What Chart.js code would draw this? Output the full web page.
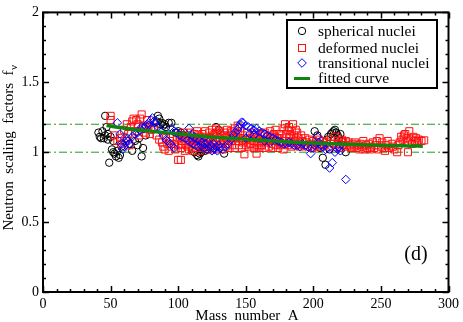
<!DOCTYPE html>
<html><head><meta charset="utf-8">
<script src="https://cdn.jsdelivr.net/npm/chart.js@4"></script>
<style>html,body{margin:0;padding:0;background:#fff}canvas{display:block}</style>
</head><body>
<canvas id="c" width="463" height="322"></canvas>
<script>
const spherical = [[41,1.14],[42,1.11],[43,1.10],[44,1.15],[45,1.10],[46,1.26],[46,1.12],[47,1.18],[48,1.13],[48,1.09],[49,0.925],[50,1.11],[51,1.02],[52,1.08],[52,1.00],[53,0.99],[54,0.97],[55,1.01],[56,0.96],[57,0.98],[58,1.04],
[62,1.10],[64,1.06],[66,1.01],[68,1.08],[70,1.05],[71,1.10],[73,0.97],[74,1.03],[76,1.12],
[82,1.17],[84,1.22],[85,1.26],[86,1.24],[87,1.20],[88,1.21],[89,1.19],[90,1.20],[91,1.18],[93,1.21],[95,1.21],
[98,1.14],[100,1.15],[102,1.14],[104,1.12],
[112,1.00],[114,0.98],[115,0.97],[116,0.99],[117,1.00],[118,1.02],[119,1.03],[120,1.01],[122,1.02],[124,1.04],[126,1.03],
[128,1.18],[130,1.16],[134,0.99],
[201,1.15],[203,1.12],[205,1.03],[207,0.96],[209,0.91],[210,1.09],[211,1.11],[212,1.02],[213,1.13],[214,1.14],[215,1.15],[216,1.16],[217,1.14],[218,1.12],[219,1.10],[220,1.13],[221,1.08],[222,1.05],[224,1.00]];

const deformed = [[50,1.26],[50,1.23],[53,1.12],[55,1.08],[57,1.10],[58,1.06],[60,1.16],[61,1.08],[62,1.20],[63,1.13],[64,1.05],[65,1.18],[66,1.22],[67,1.24],[68,1.15],[69,1.23],[70,1.20],[71,1.12],[72,1.24],[73,1.27],[74,1.19],[75,1.14],[76,1.17],[77,1.23],[78,1.19],[79,1.13],[80,1.16],[82,1.18],[84,1.12],[86,1.09],[88,1.07],[89,1.04],[90,1.02],[91,1.10],[92,1.06],[93,1.01],[94,1.08],[95,1.04],[96,1.11],[97,1.06],[98,1.02],[99,1.09],
[100,0.945],[102,0.945],[100,1.05],[101,1.12],[102,1.03],[103,1.08],[104,1.14],[105,1.01],[105,1.10],[106,1.05],[107,1.12],[108,1.02],[108,1.08],[109,1.14],[110,1.04],[110,1.10],[111,1.01],[112,1.07],[112,1.13],[113,1.03],[114,1.09],[114,1.15],[115,1.05],[116,1.11],[116,1.01],[117,1.07],[118,1.13],[118,1.03],[119,1.09],[120,1.15],[120,1.05],[121,1.11],[122,1.02],[122,1.08],[123,1.14],[124,1.04],[124,1.10],[125,1.16],[126,1.06],[126,1.12],[127,1.02],[128,1.08],[128,1.17],[129,1.14],[130,1.04],[130,1.10],[131,1.15],[132,1.06],[132,1.12],[133,1.02],[134,1.08],[134,1.14],[135,1.04],[136,1.10],[136,1.16],[137,1.06],[138,1.12],[138,1.03],[139,1.08],[140,1.14],[140,1.05],[141,1.10],[142,1.17],[142,1.03],[143,1.08],[144,1.13],[144,1.19],[145,1.05],[146,1.10],[146,1.15],[147,1.03],[148,1.07],[148,1.12],[149,0.985],[150,1.05],[150,1.09],
[103,1.06],[107,1.04],[111,1.09],[115,1.12],[119,1.06],[123,1.10],[127,1.13],[131,1.08],[135,1.12],[139,1.15],[143,1.11],[147,1.09],
[151,1.14],[152,1.04],[153,1.10],[154,1.06],[155,1.12],[156,1.03],[156,1.08],[157,1.14],[158,0.99],[158,1.05],[159,1.10],[160,1.03],[160,1.07],[161,1.12],[162,1.05],[163,1.09],[164,1.03],[164,1.14],[165,1.07],[166,1.11],[167,1.04],[168,1.09],[168,1.15],[169,1.06],[170,1.03],[170,1.12],[171,1.08],[172,1.05],[172,1.16],[173,1.10],[174,1.03],[175,1.07],[175,1.13],[176,1.05],[177,1.10],[178,1.02],[178,1.17],[179,1.20],[180,1.08],[180,1.13],[181,1.05],[182,1.18],[182,1.10],[183,1.07],[184,1.15],[184,1.04],[185,1.20],[186,1.12],[186,1.08],[187,1.05],[188,1.14],[189,1.10],[190,1.07],[190,1.04],[191,1.12],[192,1.08],[193,1.05],[194,1.10],[195,1.07],
[153,1.06],[157,1.11],[161,1.05],[163,1.13],[167,1.08],[171,1.13],[174,1.10],[177,1.06],[181,1.16],[183,1.12],[187,1.16],[189,1.06],
[196,1.04],[197,1.09],[198,1.06],[199,1.03],[200,1.08],[201,1.05],[202,1.07],[203,1.04],[204,1.09],[205,1.06],[206,1.04],[207,1.08],[208,1.05],[210,1.07],[212,1.04],[213,1.09],[215,1.06],[216,1.11],[217,1.04],[218,1.08],[219,1.06],[220,1.03],[221,1.09],[222,1.07],[223,1.05],[224,1.08],[225,1.04],[226,1.07],[227,1.05],[228,1.03],[229,1.06],[230,1.04],[231,1.07],[232,1.03],[233,1.05],[234,1.02],[235,1.06],[236,1.04],[237,1.08],[238,1.02],[239,1.05],[240,1.03],
[241,1.06],[242,1.02],[243,1.04],[244,1.07],[245,1.03],[246,1.05],[247,1.08],[248,1.02],[249,1.10],[250,1.04],[251,1.07],[252,1.03],[253,1.01],[254,1.05],[255,1.08],[256,1.03],[258,1.06],[259,1.04],[260,1.02],[262,1.00],[263,1.05],[264,1.07],[265,1.11],[266,1.09],[267,1.12],[268,1.13],[269,1.10],[270,1.00],[270,1.07],[271,1.15],[272,1.09],[273,1.06],[274,1.11],[275,1.08],[276,1.10],[277,1.07],[278,1.09],[280,1.08],[282,1.085]];

const transitional = [[55,1.21],[57,1.13],[58,1.06],[59,1.02],[60,1.04],[61,1.07],[62,1.09],[63,1.08],[64,1.06],[66,1.11],[68,1.13],[70,1.14],[72,1.16],[73,1.18],[75,1.17],[76,1.19],[78,1.21],[79,1.20],[80,1.23],[81,1.245],[82,1.22],
[83,1.21],[85,1.18],[87,1.15],[89,1.12],[91,1.09],[93,1.07],[95,1.05],[97,1.03],
[95,1.17],[97,1.15],[99,1.14],[101,1.12],[103,1.11],[105,1.10],[107,1.09],[108,1.17],[109,1.07],[111,1.06],[113,1.05],[115,1.04],[117,1.05],[119,1.03],[121,1.02],[123,1.03],[125,1.01],[127,1.02],[129,1.01],[131,1.03],
[110,1.12],[112,1.11],[114,1.10],[116,1.08],[118,1.07],[120,1.06],[122,1.07],[124,1.05],[126,1.06],[128,1.04],[130,1.05],
[133,1.02],[135,1.04],[137,1.06],[139,1.09],[141,1.12],[142,1.14],[144,1.16],[145,1.18],[146,1.20],[147,1.215],[148,1.21],
[150,1.19],[152,1.18],[154,1.17],[156,1.16],[158,1.17],[160,1.15],[162,1.14],[164,1.13],[166,1.12],[168,1.11],[170,1.10],[172,1.09],[174,1.08],[176,1.07],[178,1.06],[180,1.06],[182,1.07],[184,1.06],[186,1.05],[188,1.05],[190,1.04],[192,1.06],[194,1.05],[196,1.04],[198,0.99],[199,1.03],[201,1.05],[203,1.11],[204,1.07],[205,1.05],[207,1.04],[209,1.02],[211,1.03],
[150,1.10],[153,1.13],[156,1.12],[160,1.10],[164,1.08],[168,1.07],
[212,0.887],[214,0.925],[216,1.00],[218,1.02],[219,1.04],[220,1.01],[224,0.805]];

const fitted = [[47,1.19],[60,1.172],[75,1.155],[90,1.14],[105,1.126],[120,1.113],[135,1.102],[150,1.092],[165,1.083],[180,1.075],[195,1.068],[210,1.062],[225,1.057],[240,1.052],[255,1.048],[270,1.045],[281,1.043]];

const refLines = [1.0, 1.2];
const refSpan = [0, 300];
const xTicks = [0, 50, 100, 150, 200, 250, 300];
const yTicks = [0, 0.5, 1, 1.5, 2];
const xTitle = 'Mass  number  A';
const yTitle = 'Neutron  scaling  factors  f';
const ySub = 'ν';
const legendLabels = ['spherical nuclei', 'deformed nuclei', 'transitional nuclei', 'fitted curve'];
const panelLabel = '(d)';

const SERIF = '"Liberation Serif", "DejaVu Serif", serif';
const GREEN = '#0f850f';
const DASHGREEN = '#1e9e1e';

const toXY = arr => arr.map(p => ({x: p[0], y: p[1]}));

const datasets = [
  {label: legendLabels[3], data: toXY(fitted), showLine: true, borderColor: GREEN, borderWidth: 3.5, pointRadius: 0, cubicInterpolationMode: 'monotone', order: 0},
  {label: legendLabels[2], data: toXY(transitional), pointStyle: 'rectRot', pointRadius: 4.3, borderColor: '#0000ff', backgroundColor: 'rgba(0,0,0,0)', borderWidth: 1, order: 1},
  {label: legendLabels[1], data: toXY(deformed), pointStyle: 'rect', pointRadius: 5, borderColor: '#ff1010', backgroundColor: 'rgba(0,0,0,0)', borderWidth: 1, order: 2},
  {label: legendLabels[0], data: toXY(spherical), pointStyle: 'circle', pointRadius: 3.7, borderColor: '#000000', backgroundColor: 'rgba(0,0,0,0)', borderWidth: 1, order: 3}
];
refLines.forEach((v, i) => datasets.push({label: 'ref' + i, data: refSpan.map(x => ({x: x, y: v})), showLine: true, borderColor: DASHGREEN, borderWidth: 1, borderDash: [8, 3, 2, 3], pointRadius: 0, order: 5}));

const decor = {
  id: 'decor',
  afterDraw(chart) {
    const ctx = chart.ctx, a = chart.chartArea;
    const xs = chart.scales.x, ys = chart.scales.y;
    ctx.save();
    ctx.strokeStyle = '#000'; ctx.lineWidth = 1.5;
    ctx.beginPath();
    for (let v = 0; v <= 300; v += 10) {
      const px = Math.round(xs.getPixelForValue(v)) + 0.5;
      const len = (v % 50 === 0) ? 6 : 3;
      ctx.moveTo(px, a.bottom); ctx.lineTo(px, a.bottom - len);
      ctx.moveTo(px, a.top); ctx.lineTo(px, a.top + len);
    }
    for (let k = 0; k <= 20; k++) {
      const py = Math.round(ys.getPixelForValue(k / 10)) + 0.5;
      const len = (k % 5 === 0) ? 6 : 3;
      ctx.moveTo(a.left, py); ctx.lineTo(a.left + len, py);
      ctx.moveTo(a.right, py); ctx.lineTo(a.right - len, py);
    }
    ctx.stroke();
    ctx.lineWidth = 2;
    ctx.strokeRect(a.left, a.top, a.right - a.left, a.bottom - a.top);
    ctx.fillStyle = '#000';
    ctx.font = '15px ' + SERIF;
    ctx.textAlign = 'center'; ctx.textBaseline = 'alphabetic';
    ctx.fillText(xTitle, 247, 320);
    ctx.save();
    ctx.translate(13, 148); ctx.rotate(-Math.PI / 2);
    ctx.font = '15px ' + SERIF;
    const w = ctx.measureText(yTitle).width;
    ctx.font = '11px ' + SERIF;
    const ws = ctx.measureText(ySub).width;
    const start = -(w + ws) / 2;
    ctx.textAlign = 'left';
    ctx.font = '15px ' + SERIF;
    ctx.fillText(yTitle, start, 0);
    ctx.font = '11px ' + SERIF;
    ctx.fillText(ySub, start + w + 0.5, 3.5);
    ctx.restore();
    ctx.font = '20px ' + SERIF;
    ctx.textAlign = 'center'; ctx.textBaseline = 'middle';
    ctx.fillText(panelLabel, 416, 255);
    const lx = 287, ly = 20, lw = 150, lh = 68;
    ctx.fillStyle = '#fff';
    ctx.fillRect(lx, ly, lw, lh);
    ctx.lineWidth = 2; ctx.strokeStyle = '#000';
    ctx.strokeRect(lx, ly, lw, lh);
    const rows = [31, 48, 63, 78.5];
    const sx = 302, tx = 318;
    ctx.lineWidth = 1;
    ctx.strokeStyle = '#000';
    ctx.beginPath(); ctx.arc(sx, rows[0], 3.7, 0, Math.PI * 2); ctx.stroke();
    ctx.strokeStyle = '#ff1010';
    ctx.strokeRect(sx - 3.5, rows[1] - 3.5, 7, 7);
    ctx.strokeStyle = '#0000ff';
    ctx.beginPath(); ctx.moveTo(sx - 4.3, rows[2]); ctx.lineTo(sx, rows[2] - 4.3); ctx.lineTo(sx + 4.3, rows[2]); ctx.lineTo(sx, rows[2] + 4.3); ctx.closePath(); ctx.stroke();
    ctx.strokeStyle = GREEN; ctx.lineWidth = 3;
    ctx.beginPath(); ctx.moveTo(294, rows[3]); ctx.lineTo(310, rows[3]); ctx.stroke();
    ctx.fillStyle = '#000';
    ctx.font = '15.5px ' + SERIF;
    ctx.textAlign = 'left'; ctx.textBaseline = 'middle';
    legendLabels.forEach((t, i) => ctx.fillText(t, tx, rows[i] + 0.5));
    ctx.restore();
  }
};

new Chart(document.getElementById('c'), {
  type: 'scatter',
  data: {datasets: datasets},
  options: {
    responsive: false,
    animation: false,
    devicePixelRatio: 1,
    layout: {padding: {top: 6, right: 11, left: 0, bottom: 0}},
    plugins: {legend: {display: false}, tooltip: {enabled: false}},
    scales: {
      x: {
        type: 'linear', min: 0, max: 300,
        afterFit: s => { s.height = 30; },
        afterBuildTicks: s => { s.ticks = xTicks.map(v => ({value: v})); },
        grid: {display: false, drawTicks: false},
        border: {display: false},
        ticks: {padding: 4, maxRotation: 0, autoSkip: false, color: '#000', font: {family: SERIF, size: 14}, callback: v => String(v)}
      },
      y: {
        type: 'linear', min: 0, max: 2,
        afterFit: s => { s.width = 43; },
        afterBuildTicks: s => { s.ticks = yTicks.map(v => ({value: v})); },
        grid: {display: false, drawTicks: false},
        border: {display: false},
        ticks: {padding: 4, color: '#000', font: {family: SERIF, size: 14}, callback: v => String(v)}
      }
    }
  },
  plugins: [decor]
});
</script>
</body></html>
